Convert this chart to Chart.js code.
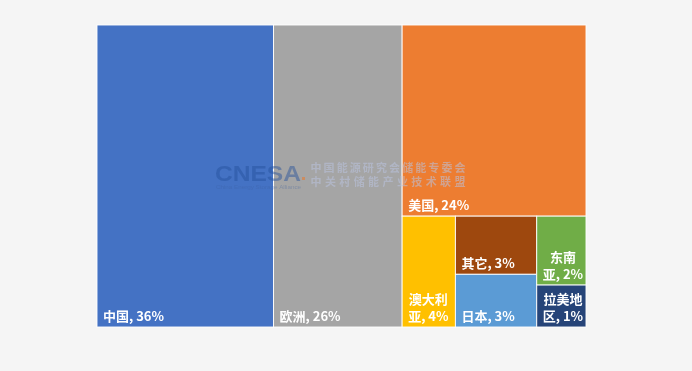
<!DOCTYPE html>
<html>
<head>
<meta charset="utf-8">
<script src="https://cdn.jsdelivr.net/npm/chart.js@4/dist/chart.umd.min.js"></script>
<style>
  html, body { margin: 0; padding: 0; background: #f5f5f5; }
  #wrap { width: 692px; height: 371px; position: relative; }
</style>
</head>
<body>
<div id="wrap"><canvas id="chart"></canvas></div>
<script>
// Regional shares of installed storage capacity (%)
const regions = ['中国', '欧洲', '美国', '澳大利亚', '其它', '日本', '东南亚', '拉美地区'];
const shares  = [36.1, 26.3, 23.8, 4.0, 3.2, 2.9, 2.3, 1.4];
const palette = ['#4472C4', '#A5A5A5', '#ED7D31', '#FFC000', '#9E480E', '#5B9BD5', '#70AD47', '#264478'];

// Nesting of the tiles: each level alternates between splitting across and down
const tiling = [0, 1, [2, [3, [4, 5], [6, 7]]]];

function groupSum(node) {
  return Array.isArray(node) ? node.reduce((s, n) => s + groupSum(n), 0) : shares[node];
}

// Slice a box (in value units) among the children of a node
function tile(node, x0, y0, x1, y1, across, out) {
  if (!Array.isArray(node)) { out.push({ i: node, x0, y0, x1, y1 }); return out; }
  const total = groupSum(node);
  let pos = across ? x0 : y0;
  node.forEach(child => {
    const span = (across ? (x1 - x0) : (y1 - y0)) * groupSum(child) / total;
    if (across) tile(child, pos, y0, pos + span, y1, !across, out);
    else tile(child, x0, pos, x1, pos + span, !across, out);
    pos += span;
  });
  return out;
}

const LABEL_FONT = 'bold 13px "Noto Sans CJK SC", "Microsoft YaHei", sans-serif';

function wrapLabel(ctx, name, value, avail) {
  const tokens = [...name];
  tokens[tokens.length - 1] += ',';
  tokens.push(' ' + Math.round(value) + '%');
  const lines = [];
  let line = '';
  tokens.forEach(t => {
    if (line && ctx.measureText(line + t).width > avail) {
      lines.push(line);
      line = t.trimStart();
    } else {
      line += t;
    }
  });
  if (line) lines.push(line);
  return lines;
}

const treemapPlugin = {
  id: 'treemapTiles',
  afterDatasetsDraw(chart) {
    const { ctx, scales: { x, y } } = chart;
    const tiles = tile(tiling, 0, 0, 100, 100, true, []);
    ctx.save();
    tiles.forEach(t => {
      const px0 = x.getPixelForValue(t.x0), px1 = x.getPixelForValue(t.x1);
      const py0 = y.getPixelForValue(t.y0), py1 = y.getPixelForValue(t.y1);
      ctx.fillStyle = palette[t.i];
      ctx.fillRect(px0, py0, px1 - px0, py1 - py0);
      ctx.strokeStyle = 'rgba(255,255,255,0.9)';
      ctx.lineWidth = 1;
      ctx.strokeRect(px0, py0, px1 - px0, py1 - py0);

      ctx.font = LABEL_FONT;
      ctx.fillStyle = '#ffffff';
      ctx.textAlign = 'center';
      ctx.textBaseline = 'middle';
      const lines = wrapLabel(ctx, regions[t.i], shares[t.i], (px1 - px0) - 8);
      const blockW = Math.max(...lines.map(l => ctx.measureText(l).width));
      const cx = px0 + 6 + blockW / 2;
      const lineH = 16.7;
      lines.forEach((l, k) => {
        const cy = py1 - 11 - (lines.length - 1 - k) * lineH;
        ctx.fillText(l, cx, cy);
      });
    });
    ctx.restore();
  },
  afterDraw(chart) {
    // Faint CNESA mark across the middle of the plot
    const ctx = chart.ctx;
    ctx.save();
    ctx.textBaseline = 'alphabetic';
    ctx.textAlign = 'left';

    ctx.font = 'bold 22px "Liberation Sans", Arial, sans-serif';
    const brand = 'CNESA';
    const bw = ctx.measureText(brand).width;
    ctx.save();
    ctx.translate(215, 181);
    ctx.scale(86 / bw, 1);
    ctx.fillStyle = 'rgba(35,80,155,0.45)';
    ctx.fillText(brand, 0, 0);
    ctx.restore();

    ctx.fillStyle = 'rgba(235,120,40,0.55)';
    ctx.fillRect(302, 177, 3, 3);

    ctx.font = '6px "Liberation Sans", Arial, sans-serif';
    const sub = 'China Energy Storage Alliance';
    const sw = ctx.measureText(sub).width;
    ctx.save();
    ctx.translate(216, 189);
    ctx.scale(85 / sw, 1);
    ctx.fillStyle = 'rgba(60,95,160,0.35)';
    ctx.fillText(sub, 0, 0);
    ctx.restore();

    ctx.font = 'bold 11px "Noto Sans CJK SC", sans-serif';
    ctx.textBaseline = 'middle';
    ctx.textAlign = 'center';
    ctx.fillStyle = 'rgba(185,195,222,0.55)';
    const rows = [['中国能源研究会储能专委会', 167.8], ['中关村储能产业技术联盟', 182.2]];
    rows.forEach(([txt, cy]) => {
      const chars = [...txt];
      const left = 316, right = 460;
      chars.forEach((c, k) => {
        const cx = left + (right - left) * k / (chars.length - 1);
        ctx.fillText(c, cx, cy);
      });
    });
    ctx.restore();
  }
};

new Chart(document.getElementById('chart'), {
  type: 'scatter',
  data: { datasets: [{ data: [], pointRadius: 0 }] },
  options: {
    responsive: true,
    maintainAspectRatio: false,
    animation: false,
    layout: { padding: { left: 97, top: 25, right: 106, bottom: 44 } },
    scales: {
      x: { type: 'linear', min: 0, max: 100, display: false },
      y: { type: 'linear', min: 0, max: 100, display: false, reverse: true }
    },
    plugins: { legend: { display: false }, tooltip: { enabled: false } }
  },
  plugins: [treemapPlugin]
});
</script>
</body>
</html>
